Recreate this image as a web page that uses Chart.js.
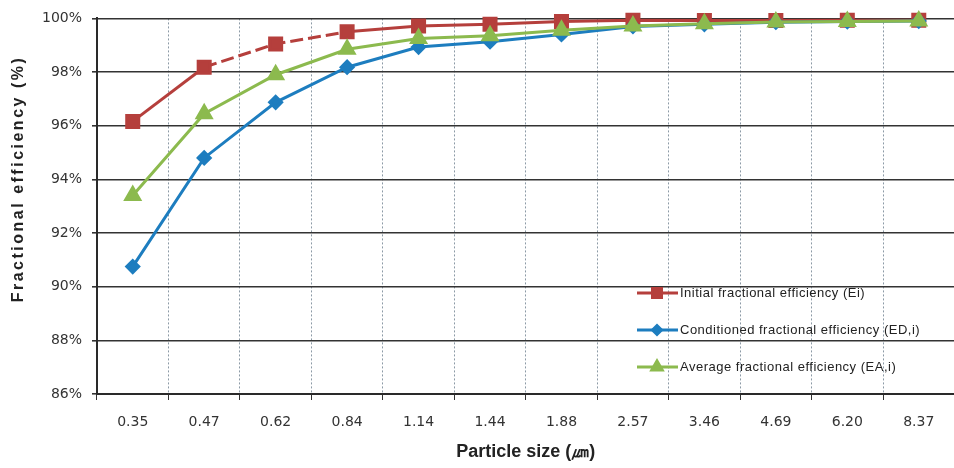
<!DOCTYPE html>
<html>
<head>
<meta charset="utf-8">
<script src="https://cdn.jsdelivr.net/npm/chart.js@4.4.1/dist/chart.umd.min.js"></script>
<style>
  html, body { margin: 0; padding: 0; background: #fff; overflow: hidden; }
  #wrap { width: 966px; height: 468px; }
</style>
</head>
<body>
<div id="wrap"><canvas id="effChart" width="966" height="468"></canvas></div>
<script>
// particle size classes (um)
const sizes = ['0.35', '0.47', '0.62', '0.84', '1.14', '1.44', '1.88', '2.57', '3.46', '4.69', '6.20', '8.37'];

// fractional efficiency values (%)
const initialEff     = [96.16, 98.18, 99.05, 99.50, 99.72, 99.78, 99.88, 99.93, 99.92, 99.92, 99.93, 99.93];
const conditionedEff = [90.75, 94.80, 96.87, 98.18, 98.93, 99.13, 99.40, 99.70, 99.78, 99.86, 99.88, 99.90];
const averageEff     = [93.40, 96.45, 97.90, 98.85, 99.25, 99.35, 99.56, 99.72, 99.80, 99.87, 99.88, 99.90];

const seriesLabels = [
    'Initial fractional efficiency (Ei)',
    'Conditioned fractional efficiency (ED,i)',
    'Average fractional efficiency (EA,i)'
];

const yTicks = { min: 86, max: 100, step: 2 };
const yTitle = 'Fractional efficiency (%)';
const xTitle = 'Particle size (㎛)';

const RED = '#B53F3C';
const BLUE = '#1D7DBF';
const GREEN = '#8CBA4E';

// legend inside the plot area (bottom right) + spaced-out y axis title
const innerLegend = {
    id: 'innerLegend',
    afterDraw(chart) {
        const ctx = chart.ctx;
        const x0 = 637, rows = [293, 330, 367];
        chart.data.datasets.forEach((ds, i) => {
            const y = rows[i];
            ctx.save();
            ctx.strokeStyle = ds.borderColor;
            ctx.lineWidth = 3;
            ctx.beginPath();
            ctx.moveTo(x0, y);
            ctx.lineTo(x0 + 41, y);
            ctx.stroke();
            ctx.fillStyle = ds.pointBackgroundColor;
            ctx.strokeStyle = ds.borderColor;
            Chart.helpers.drawPoint(ctx, {
                pointStyle: ds.pointStyle,
                radius: ds.pointRadius * 0.75,
                rotation: 0,
                borderWidth: 1
            }, x0 + 20, y);
            ctx.fillStyle = '#222';
            ctx.font = '13px "Liberation Sans", Arial, sans-serif';
            ctx.letterSpacing = '0.5px';
            ctx.textBaseline = 'middle';
            ctx.fillText(ds.label, x0 + 43, y);
            ctx.restore();
        });

        ctx.save();
        ctx.translate(19, 179);
        ctx.rotate(-Math.PI / 2);
        ctx.fillStyle = '#222';
        ctx.font = 'bold 16px "Liberation Sans", Arial, sans-serif';
        ctx.letterSpacing = '2.5px';
        ctx.textAlign = 'center';
        ctx.textBaseline = 'middle';
        ctx.fillText(yTitle, 0, 0);
        ctx.restore();
    }
};

const ctx = document.getElementById('effChart').getContext('2d');
const dashedPart = c => (c.p0DataIndex === 1 || c.p0DataIndex === 2) ? [13, 5] : undefined;

new Chart(ctx, {
    type: 'line',
    data: {
        labels: sizes,
        datasets: [
            {
                label: seriesLabels[0],
                data: initialEff,
                borderColor: RED,
                backgroundColor: RED,
                pointBackgroundColor: RED,
                pointBorderColor: RED,
                pointStyle: 'rect',
                pointRadius: 8.5,
                borderWidth: 3,
                tension: 0,
                clip: false,
                order: 2,
                segment: { borderDash: dashedPart }
            },
            {
                label: seriesLabels[1],
                data: conditionedEff,
                borderColor: BLUE,
                backgroundColor: BLUE,
                pointBackgroundColor: BLUE,
                pointBorderColor: BLUE,
                pointStyle: 'rectRot',
                pointRadius: 6,
                borderWidth: 3,
                tension: 0,
                clip: false,
                order: 1
            },
            {
                label: seriesLabels[2],
                data: averageEff,
                borderColor: GREEN,
                backgroundColor: GREEN,
                pointBackgroundColor: GREEN,
                pointBorderColor: GREEN,
                pointStyle: 'triangle',
                pointRadius: 8,
                borderWidth: 3,
                tension: 0,
                clip: false,
                order: 0
            }
        ]
    },
    options: {
        responsive: false,
        animation: false,
        layout: { padding: { top: 10, right: 5, left: 0, bottom: 0 } },
        plugins: {
            legend: { display: false },
            tooltip: { enabled: false }
        },
        scales: {
            x: {
                offset: true,
                afterFit: s => { s.height = 74; },
                grid: {
                    offset: true,
                    color: '#8c9aa6',
                    lineWidth: 1,
                    tickLength: 6,
                    tickColor: '#333',
                    tickBorderDash: []
                },
                border: { display: true, color: '#2a2a2a', width: 2, dash: [2, 2] },
                ticks: {
                    color: '#333',
                    padding: 14,
                    maxRotation: 0,
                    font: { family: '"DejaVu Sans", Verdana, sans-serif', size: 14 }
                },
                title: {
                    display: true,
                    text: xTitle,
                    color: '#222',
                    padding: { top: 0, bottom: 5 },
                    font: { family: '"Liberation Sans", Arial, sans-serif', size: 18, weight: 'bold' }
                }
            },
            y: {
                min: yTicks.min,
                max: yTicks.max,
                afterFit: s => { s.width = 97; },
                grid: {
                    color: '#333',
                    lineWidth: 1.6,
                    tickLength: 5,
                    tickColor: '#333'
                },
                border: { display: true, color: '#2a2a2a', width: 2 },
                ticks: {
                    stepSize: yTicks.step,
                    color: '#333',
                    padding: 10,
                    font: { family: '"DejaVu Sans", Verdana, sans-serif', size: 14 },
                    callback: v => v + '%'
                },
                title: { display: false }
            }
        }
    },
    plugins: [innerLegend]
});
</script>
</body>
</html>
